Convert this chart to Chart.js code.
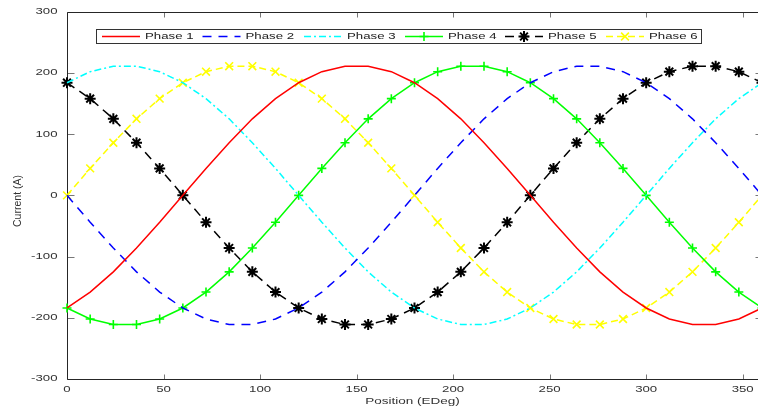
<!DOCTYPE html>
<html>
<head>
<meta charset="utf-8">
<script src="https://cdn.jsdelivr.net/npm/chart.js@4/dist/chart.umd.min.js"></script>
<style>
  html, body { margin: 0; padding: 0; background: #fff; overflow: hidden; }
  #wrap { position: relative; width: 770px; height: 410px; }
</style>
</head>
<body>
<div id="wrap"><canvas id="c"></canvas></div>
<script>
// Rotor position in electrical degrees
const POSITION = [0,12,24,36,48,60,72,84,96,108,120,132,144,156,168,180,192,204,216,228,240,252,264,276,288,300,312,324,336,348,360];

// Phase currents (A)
const PHASE_1 = [-184,-158,-125,-86,-44,0,44,86,125,158,184,202,211,211,202,184,158,125,86,44,0,-44,-86,-125,-158,-184,-202,-211,-211,-202,-184];
const PHASE_2 = [0,-44,-86,-125,-158,-184,-202,-211,-211,-202,-184,-158,-125,-86,-44,0,44,86,125,158,184,202,211,211,202,184,158,125,86,44,0];
const PHASE_3 = [184,202,211,211,202,184,158,125,86,44,0,-44,-86,-125,-158,-184,-202,-211,-211,-202,-184,-158,-125,-86,-44,0,44,86,125,158,184];
const PHASE_4 = [-184,-202,-211,-211,-202,-184,-158,-125,-86,-44,0,44,86,125,158,184,202,211,211,202,184,158,125,86,44,0,-44,-86,-125,-158,-184];
const PHASE_5 = [184,158,125,86,44,0,-44,-86,-125,-158,-184,-202,-211,-211,-202,-184,-158,-125,-86,-44,0,44,86,125,158,184,202,211,211,202,184];
const PHASE_6 = [0,44,86,125,158,184,202,211,211,202,184,158,125,86,44,0,-44,-86,-125,-158,-184,-202,-211,-211,-202,-184,-158,-125,-86,-44,0];

const SERIES_NAMES = ['Phase 1','Phase 2','Phase 3','Phase 4','Phase 5','Phase 6'];

// Axis ticks and titles
const X_TICKS = [0,50,100,150,200,250,300,350];
const Y_TICKS = [-300,-200,-100,0,100,200,300];
const X_TITLE = 'Position (EDeg)';
const Y_TITLE = 'Current (A)';

const FONT = '"Liberation Sans", Arial, Helvetica, sans-serif';
const TEXT_STRETCH = 1.47;
const AXIS_COLOR = '#262626';

function pairs(values) {
  return POSITION.map((p, i) => ({ x: p, y: values[i] }));
}

const STYLES = [
  { color: '#ff0000', dash: [],           point: false,      radius: 0 },
  { color: '#0000ff', dash: [9, 7],       point: false,      radius: 0 },
  { color: '#00ffff', dash: [7, 3, 2, 3], point: false,      radius: 0 },
  { color: '#00ff00', dash: [],           point: 'cross',    radius: 4.5 },
  { color: '#000000', dash: [9, 6],       point: 'star',     radius: 5.5 },
  { color: '#ffff00', dash: [7, 4],       point: 'crossRot', radius: 5.5 }
];
const SERIES = [PHASE_1, PHASE_2, PHASE_3, PHASE_4, PHASE_5, PHASE_6];

const datasets = SERIES.map((vals, k) => ({
  label: SERIES_NAMES[k],
  data: pairs(vals),
  borderColor: STYLES[k].color,
  backgroundColor: STYLES[k].color,
  borderWidth: 1.5,
  borderDash: STYLES[k].dash,
  pointStyle: STYLES[k].point || 'circle',
  pointRadius: STYLES[k].radius,
  pointBorderWidth: k === 4 ? 2 : 1.6,
  pointBorderColor: STYLES[k].color,
  pointBackgroundColor: STYLES[k].color,
  tension: 0,
  fill: false,
  clip: 12
}));

function stretchedText(ctx, text, x, y, align, sx) {
  ctx.save();
  ctx.translate(x, y);
  ctx.scale(sx, 1);
  ctx.textAlign = align;
  ctx.textBaseline = 'middle';
  ctx.fillText(text, 0, 0);
  ctx.restore();
}

// Box, inward ticks, tick labels and axis titles
const axesFrame = {
  id: 'axesFrame',
  beforeDatasetsDraw(chart) {
    const { ctx, chartArea: a, scales: { x, y } } = chart;
    const L = Math.round(a.left) + 0.5, R = Math.round(a.right) + 0.5;
    const T = Math.round(a.top) + 0.5, B = Math.round(a.bottom) + 0.5;
    ctx.save();
    // ticks
    ctx.strokeStyle = '#777';
    ctx.lineWidth = 1;
    ctx.beginPath();
    X_TICKS.forEach(v => {
      const px = Math.round(x.getPixelForValue(v)) + 0.5;
      ctx.moveTo(px, B); ctx.lineTo(px, B - 5);
      ctx.moveTo(px, T); ctx.lineTo(px, T + 5);
    });
    Y_TICKS.forEach(v => {
      const py = Math.round(y.getPixelForValue(v)) + 0.5;
      ctx.moveTo(L, py); ctx.lineTo(L + 7, py);
      ctx.moveTo(R, py); ctx.lineTo(R - 7, py);
    });
    ctx.stroke();
    // frame
    ctx.strokeStyle = AXIS_COLOR;
    ctx.beginPath();
    ctx.moveTo(L, T); ctx.lineTo(L, B); ctx.lineTo(R, B); ctx.lineTo(R, T); ctx.closePath();
    ctx.stroke();
    // tick labels
    ctx.fillStyle = '#333';
    ctx.font = '9px ' + FONT;
    X_TICKS.forEach(v => {
      stretchedText(ctx, String(v), x.getPixelForValue(v), 389.5, 'center', TEXT_STRETCH);
    });
    Y_TICKS.forEach(v => {
      stretchedText(ctx, String(v), 57.5, y.getPixelForValue(v), 'right', TEXT_STRETCH);
    });
    // titles
    ctx.font = '9px ' + FONT;
    stretchedText(ctx, X_TITLE, 412.5, 402, 'center', 1.5);
    ctx.save();
    ctx.translate(18.5, 201);
    ctx.rotate(-Math.PI / 2);
    ctx.font = '10.5px ' + FONT;
    ctx.textAlign = 'center';
    ctx.textBaseline = 'middle';
    ctx.fillText(Y_TITLE, 0, 0);
    ctx.restore();
    ctx.restore();
  }
};

// Legend drawn as a single boxed row
const rowLegend = {
  id: 'rowLegend',
  afterDraw(chart) {
    const { ctx } = chart;
    const box = { l: 96.5, t: 29.5, r: 701.5, b: 43.5 };
    const cy = (box.t + box.b) / 2;
    const starts = [102, 202.5, 304, 405, 505, 606];
    ctx.save();
    ctx.fillStyle = '#fff';
    ctx.fillRect(box.l, box.t, box.r - box.l, box.b - box.t);
    ctx.strokeStyle = '#333';
    ctx.lineWidth = 1;
    ctx.strokeRect(box.l, box.t, box.r - box.l, box.b - box.t);
    chart.data.datasets.forEach((ds, k) => {
      const x0 = starts[k];
      ctx.save();
      ctx.strokeStyle = ds.borderColor;
      ctx.lineWidth = 1.5;
      ctx.setLineDash(STYLES[k].dash);
      ctx.beginPath();
      ctx.moveTo(x0, cy); ctx.lineTo(x0 + 38, cy);
      ctx.stroke();
      ctx.setLineDash([]);
      if (STYLES[k].point) {
        ctx.fillStyle = ds.borderColor;
        ctx.lineWidth = ds.pointBorderWidth;
        Chart.helpers.drawPoint(ctx, {
          pointStyle: STYLES[k].point,
          radius: STYLES[k].radius,
          rotation: 0,
          borderWidth: ds.pointBorderWidth
        }, x0 + 19, cy);
      }
      ctx.restore();
      ctx.fillStyle = '#222';
      ctx.font = '9px ' + FONT;
      stretchedText(ctx, ds.label, x0 + 43, cy + 0.5, 'left', TEXT_STRETCH);
    });
    ctx.restore();
  }
};

new Chart(document.getElementById('c'), {
  type: 'line',
  data: { datasets },
  options: {
    responsive: true,
    maintainAspectRatio: false,
    animation: false,
    events: [],
    layout: { padding: { left: 67, right: 8, top: 11.7, bottom: 31 } },
    scales: {
      x: { type: 'linear', min: 0, max: 360, display: false },
      y: { type: 'linear', min: -300, max: 300, display: false }
    },
    plugins: {
      legend: { display: false },
      tooltip: { enabled: false }
    }
  },
  plugins: [axesFrame, rowLegend]
});
</script>
</body>
</html>
